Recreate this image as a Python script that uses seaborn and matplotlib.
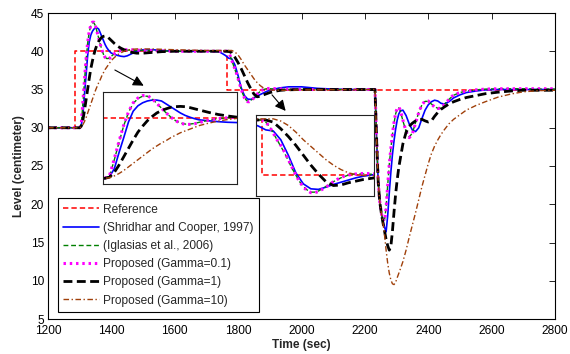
import matplotlib
matplotlib.use("Agg")
import matplotlib.pyplot as plt
import pandas as pd
import seaborn as sns

# ---------------- data ----------------
ref_t = [1200, 1285, 1765, 2800]
ref_y = [30, 40, 35, 35]

shr_t = [1200, 1300, 1305, 1310, 1315, 1320, 1325, 1330, 1335, 1340, 1345, 1350, 1355, 1360, 1365,
         1370, 1375, 1380, 1385, 1390, 1395, 1400, 1410, 1420, 1430, 1440, 1450, 1465, 1480, 1500,
         1530, 1560, 1600, 1700, 1740, 1750, 1760, 1770, 1780, 1790, 1800, 1810, 1820, 1830, 1840,
         1850, 1860, 1870, 1880, 1890, 1900, 1910, 1930, 1960, 2000, 2050, 2100, 2150, 2232, 2237,
         2242, 2247, 2252, 2257, 2262, 2267, 2272, 2277, 2282, 2287, 2292, 2297, 2302, 2307, 2312,
         2320, 2330, 2340, 2350, 2360, 2370, 2380, 2390, 2400, 2410, 2420, 2430, 2440, 2450, 2465,
         2480, 2500, 2520, 2550, 2580, 2620, 2700, 2800]
shr_y = [30, 30.0, 30.3, 31.6, 34.3, 36.8, 39.4, 41.2, 42.1, 42.6, 42.9, 43.05, 43.05, 42.9, 42.4,
         41.9, 41.4, 40.9, 40.5, 40.2, 39.95, 39.75, 39.6, 39.45, 39.35, 39.3, 39.4, 39.7, 40.0, 40.2,
         40.2, 40.1, 40.0, 40.0, 39.95, 39.7, 39.45, 39.1, 39.0, 38.2, 36.8, 35.2, 34.2, 33.75, 33.7,
         33.9, 34.15, 34.35, 34.55, 34.75, 34.9, 35.0, 35.2, 35.35, 35.35, 35.15, 35.05, 35.0, 35.0, 28.5,
         23.0, 20.3, 18.8, 17.8, 17.0, 16.4, 18.5, 21.5, 24.2, 26.5, 28.3, 29.8, 31.0, 31.8, 32.2,
         32.3, 31.6, 30.5, 29.7, 29.5, 30.0, 31.2, 32.3, 33.0, 33.4, 33.6, 33.5, 33.2, 33.1, 33.4,
         33.9, 34.3, 34.6, 34.8, 34.95, 35.0, 35.0, 35.0]

igl_t = [1200, 1300, 1305, 1310, 1315, 1320, 1325, 1330, 1335, 1340, 1345, 1350, 1355, 1360, 1365,
         1370, 1375, 1380, 1385, 1390, 1395, 1400, 1410, 1420, 1430, 1440, 1460, 1500, 1600, 1700,
         1765, 1770, 1775, 1780, 1785, 1790, 1795, 1800, 1805, 1810, 1815, 1820, 1825, 1830, 1835,
         1840, 1850, 1860, 1870, 1880, 1890, 1900, 1920, 1950, 2000, 2232, 2237, 2242, 2247, 2252,
         2257, 2262, 2267, 2272, 2277, 2282, 2287, 2292, 2297, 2302, 2307, 2312, 2320, 2330, 2340,
         2350, 2360, 2370, 2380, 2390, 2400, 2410, 2420, 2430, 2440, 2450, 2465, 2480, 2500, 2520,
         2550, 2580, 2620, 2700, 2800]
igl_y = [30, 30.0, 30.4, 33.1, 36.0, 38.8, 41.0, 42.5, 43.3, 43.7, 43.7, 43.3, 42.5, 41.7, 40.9,
         40.2, 39.6, 39.25, 39.05, 39.05, 39.15, 39.35, 39.7, 39.95, 40.1, 40.15, 40.15, 40.1, 40.0, 40.0,
         40.0, 39.8, 39.4, 38.8, 38.2, 37.6, 37.0, 36.3, 35.6, 35.0, 34.4, 33.95, 33.65, 33.45, 33.45,
         33.55, 33.95, 34.4, 34.75, 35.0, 35.1, 35.1, 35.05, 35.0, 35.0, 35.0, 28.5, 23.0, 20.3, 18.8,
         18.0, 17.9, 19.6, 22.5, 25.2, 27.3, 29.1, 30.6, 31.8, 32.5, 32.6, 32.2, 30.9, 29.5, 28.8,
         29.3, 30.7, 32.0, 33.0, 33.45, 33.45, 33.1, 32.75, 32.55, 32.65, 33.0, 33.7, 34.25, 34.6, 34.8,
         34.95, 35.05, 35.1, 35.1, 35.05]

g01_t = [1200, 1300, 1305, 1310, 1315, 1320, 1325, 1330, 1335, 1340, 1345, 1350, 1355, 1360, 1365,
         1370, 1375, 1380, 1385, 1390, 1395, 1400, 1410, 1420, 1430, 1440, 1460, 1500, 1600, 1700,
         1765, 1770, 1775, 1780, 1785, 1790, 1795, 1800, 1805, 1810, 1815, 1820, 1825, 1830, 1835,
         1840, 1850, 1860, 1870, 1880, 1890, 1900, 1920, 1950, 2000, 2232, 2237, 2242, 2247, 2252,
         2257, 2262, 2267, 2272, 2277, 2282, 2287, 2292, 2297, 2302, 2307, 2312, 2320, 2330, 2340,
         2350, 2360, 2370, 2380, 2390, 2400, 2410, 2420, 2430, 2440, 2450, 2465, 2480, 2500, 2520,
         2550, 2580, 2620, 2700, 2800]
g01_y = [30, 30.0, 30.5, 33.3, 36.2, 38.9, 41.1, 42.6, 43.4, 43.8, 43.8, 43.3, 42.5, 41.7, 40.9,
         40.2, 39.6, 39.2, 39.0, 39.0, 39.1, 39.3, 39.7, 39.95, 40.1, 40.2, 40.2, 40.1, 40.0, 40.0,
         40.0, 39.8, 39.4, 38.8, 38.2, 37.7, 37.1, 36.4, 35.7, 35.0, 34.4, 33.9, 33.6, 33.4, 33.4,
         33.5, 33.9, 34.4, 34.8, 35.0, 35.1, 35.15, 35.1, 35.05, 35.0, 35.0, 28.5, 23.0, 20.3, 18.8,
         18.0, 17.8, 19.5, 22.5, 25.2, 27.3, 29.2, 30.7, 31.9, 32.6, 32.7, 32.3, 31.0, 29.5, 28.7,
         29.2, 30.6, 32.0, 33.0, 33.5, 33.5, 33.1, 32.7, 32.5, 32.6, 33.0, 33.7, 34.3, 34.6, 34.8,
         34.95, 35.05, 35.1, 35.1, 35.1]

g1_t = [1200, 1300, 1305, 1310, 1315, 1320, 1325, 1330, 1335, 1340, 1345, 1350, 1355, 1360, 1365,
        1370, 1375, 1380, 1385, 1390, 1395, 1400, 1410, 1420, 1430, 1440, 1450, 1465, 1480, 1500,
        1530, 1560, 1600, 1700, 1770, 1780, 1790, 1800, 1810, 1820, 1830, 1840, 1850, 1860, 1870,
        1880, 1890, 1900, 1910, 1920, 1935, 1950, 2000, 2232, 2237, 2242, 2247, 2252, 2257, 2262,
        2267, 2272, 2277, 2282, 2287, 2292, 2297, 2302, 2307, 2312, 2320, 2330, 2340, 2350, 2360,
        2370, 2380, 2390, 2400, 2410, 2420, 2430, 2440, 2450, 2465, 2480, 2500, 2520, 2550, 2580,
        2620, 2660, 2700, 2750, 2800]
g1_y = [30, 30.0, 30.2, 31.0, 32.2, 33.6, 35.0, 36.4, 37.7, 38.7, 39.6, 40.3, 40.9, 41.3, 41.6,
        41.85, 41.95, 42.0, 41.95, 41.8, 41.6, 41.4, 41.0, 40.65, 40.4, 40.2, 40.0, 39.85, 39.75, 39.75,
        39.85, 39.95, 40.0, 40.0, 40.0, 39.8, 39.2, 38.5, 37.7, 36.8, 35.9, 35.1, 34.4, 34.05, 34.1,
        34.3, 34.45, 34.6, 34.7, 34.8, 34.9, 34.95, 35.0, 35.0, 28.5, 23.0, 20.3, 18.8, 17.6, 16.5,
        15.4, 14.6, 14.0, 14.5, 16.5, 19.0, 21.3, 23.2, 24.8, 26.0, 27.9, 29.4, 30.2, 30.6, 30.9,
        31.1, 31.1, 30.9, 30.75, 30.9, 31.5, 32.0, 32.4, 32.7, 33.1, 33.4, 33.7, 33.95, 34.2, 34.45,
        34.65, 34.8, 34.9, 34.9, 34.9]

g10_t = [1200, 1300, 1305, 1310, 1315, 1320, 1325, 1330, 1335, 1340, 1345, 1350, 1355, 1360, 1365,
         1370, 1375, 1380, 1385, 1390, 1395, 1400, 1410, 1420, 1430, 1440, 1450, 1465, 1480, 1500,
         1530, 1560, 1600, 1650, 1700, 1780, 1790, 1800, 1810, 1820, 1830, 1840, 1850, 1860, 1870,
         1880, 1890, 1900, 1920, 1950, 2000, 2232, 2237, 2242, 2247, 2252, 2257, 2262, 2267, 2272,
         2277, 2282, 2287, 2292, 2297, 2302, 2310, 2320, 2330, 2340, 2350, 2360, 2370, 2380, 2390,
         2400, 2410, 2420, 2430, 2440, 2450, 2465, 2480, 2500, 2520, 2550, 2580, 2620, 2660, 2700,
         2750, 2800]
g10_y = [30, 30.0, 30.1, 30.4, 30.8, 31.3, 31.9, 32.5, 33.1, 33.7, 34.3, 34.9, 35.4, 35.9, 36.3,
         36.8, 37.2, 37.6, 37.9, 38.2, 38.5, 38.8, 39.2, 39.55, 39.8, 40.0, 40.15, 40.25, 40.3, 40.3,
         40.3, 40.25, 40.2, 40.15, 40.1, 40.1, 39.9, 39.5, 38.9, 38.2, 37.6, 37.0, 36.4, 35.9, 35.5,
         35.2, 35.05, 34.95, 34.9, 34.9, 34.95, 35.0, 28.5, 23.0, 20.3, 18.8, 17.6, 16.0, 14.0, 12.3,
         11.0, 10.1, 9.6, 9.5, 9.8, 10.4, 11.3, 12.5, 14.0, 15.7, 17.3, 18.9, 20.6, 22.3, 23.8,
         25.3, 26.6, 27.6, 28.4, 29.1, 29.7, 30.5, 31.1, 31.7, 32.3, 32.9, 33.4, 34.0, 34.4, 34.7,
         34.85, 34.9]

labels = ["Reference", "(Shridhar and Cooper, 1997)", "(Iglasias et al., 2006)",
          "Proposed (Gamma=0.1)", "Proposed (Gamma=1)", "Proposed (Gamma=10)"]
x_ticks = [1200, 1400, 1600, 1800, 2000, 2200, 2400, 2600, 2800]
y_ticks = [5, 10, 15, 20, 25, 30, 35, 40, 45]

series = [
    (labels[0], ref_t, ref_y, "#ff0000", 1.1, (0, (3.5, 2.0)), "steps-post"),
    (labels[1], shr_t, shr_y, "#0000ff", 1.2, "-", "default"),
    (labels[2], igl_t, igl_y, "#008000", 1.0, (0, (3.5, 2.0)), "default"),
    (labels[3], g01_t, g01_y, "#ff00ff", 2.2, (0, (0.8, 1.25)), "default"),
    (labels[4], g1_t, g1_y, "#000000", 2.0, (0, (3.2, 1.6)), "default"),
    (labels[5], g10_t, g10_y, "#a0400a", 1.0, (0, (4, 1.8, 1, 1.8)), "default"),
]
for s in series:
    assert len(s[1]) == len(s[2]), s[0]

# ---------------- styling ----------------
sns.set_style("white")
plt.rcParams["font.family"] = ["Liberation Sans", "DejaVu Sans"]
plt.rcParams["axes.linewidth"] = 0.8

fig = plt.figure(figsize=(5.7, 3.54), dpi=100)
ax = fig.add_axes([48 / 570, 1 - 319 / 354, 507 / 570, 306 / 354])


def draw(a, with_labels):
    for lab, t, y, c, lw, ls, ds in series:
        df = pd.DataFrame({"Time": t, "Level": y})
        kw = dict(label=lab) if with_labels else {}
        sns.lineplot(data=df, x="Time", y="Level", ax=a, color=c, lw=lw, linestyle=ls,
                     drawstyle=ds, estimator=None, sort=False, **kw)


draw(ax, True)
ax.set_xlim(1200, 2800)
ax.set_ylim(5, 45)
ax.set_xticks(x_ticks)
ax.set_yticks(y_ticks)
ax.tick_params(direction="in", top=True, right=True, length=4, width=0.6,
               labelsize=8.6, colors="k")
ax.tick_params(axis="x", pad=4.5)
ax.tick_params(axis="y", pad=3)
for sp in ax.spines.values():
    sp.set_color("k")
    sp.set_linewidth(0.8)
ax.set_xlabel("Time (sec)", fontweight="bold", fontsize=8.6, labelpad=1)
ax.set_ylabel("Level (centimeter)", fontweight="bold", fontsize=8.6, labelpad=4)

leg = ax.legend(loc="lower left", bbox_to_anchor=(0.0197, 0.0229), fontsize=8.6,
                frameon=True, fancybox=False, edgecolor="k", framealpha=1,
                handlelength=3.0, handletextpad=0.35, labelspacing=0.52,
                borderpad=0.45, borderaxespad=0)
leg.get_frame().set_linewidth(0.8)

# arrows pointing to the zoomed views
arrow_kw = dict(arrowstyle="-|>", color="k", lw=0.8, mutation_scale=16, shrinkA=0, shrinkB=0)
ax.annotate("", xy=(1502, 35.5), xytext=(1411, 37.55), arrowprops=arrow_kw)
ax.annotate("", xy=(1950, 32.2), xytext=(1907, 34.3), arrowprops=arrow_kw)

# inset zooms
ins1 = fig.add_axes([103 / 570, 1 - 184 / 354, 134 / 570, 92 / 354])
ins2 = fig.add_axes([256 / 570, 1 - 196 / 354, 118 / 570, 81 / 354])
for a, xl, yl in [(ins1, (1298, 1440), (29.05, 44.4)), (ins2, (1757, 1914), (33.1, 40.45))]:
    a.set_facecolor("white")
    draw(a, False)
    a.set_xlim(*xl)
    a.set_ylim(*yl)
    a.set_xticks([])
    a.set_yticks([])
    a.set_xlabel("")
    a.set_ylabel("")
    for sp in a.spines.values():
        sp.set_color("#222222")
        sp.set_linewidth(0.8)
    if a.get_legend() is not None:
        a.get_legend().remove()

fig.savefig("out.png", dpi=100)
